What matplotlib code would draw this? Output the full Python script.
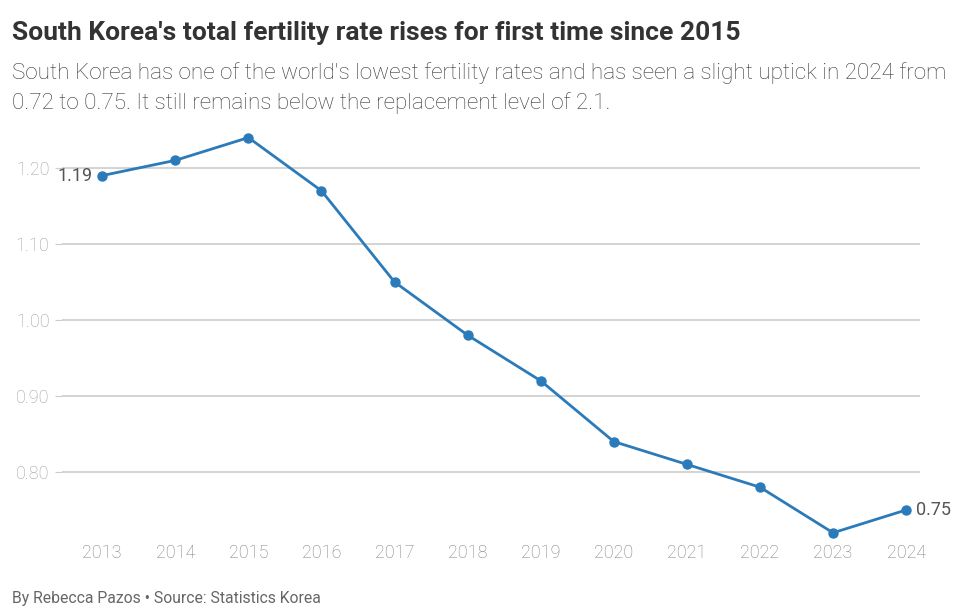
import matplotlib.pyplot as plt

years = [2013, 2014, 2015, 2016, 2017, 2018, 2019, 2020, 2021, 2022, 2023, 2024]
rates = [1.19, 1.21, 1.24, 1.17, 1.05, 0.98, 0.92, 0.84, 0.81, 0.78, 0.72, 0.75]
yticks = [0.80, 0.90, 1.00, 1.10, 1.20]

W, H = 980, 615
fig = plt.figure(figsize=(9.8, 6.15), dpi=100)
plt.rcParams['font.family'] = ['Roboto', 'DejaVu Sans']

# axes placed in pixel coords
left, right, top, bottom = 62, 920, 128, 540
ax = fig.add_axes([left / W, 1 - bottom / H, (right - left) / W, (bottom - top) / H])

blue = '#2b7bba'
ax.plot(years, rates, color=blue, lw=2, marker='o', ms=6.5, zorder=3)

ax.set_xlim(2012.45, 2024.19)
ax.set_ylim(0.7105, 1.2526)
ax.set_yticks(yticks)
ax.set_yticklabels([f"{v:.2f}" for v in yticks])
ax.set_xticks(years)
ax.grid(axis='y', color='#cccccc', lw=1.2)
ax.set_axisbelow(True)
for s in ax.spines.values():
    s.set_visible(False)
ax.tick_params(axis='y', length=5, color='#cccccc', labelcolor='#a0a0a0', labelsize=13, pad=4)
ax.tick_params(axis='x', length=0, labelcolor='#808080', labelsize=13, pad=3)
for lab in ax.get_yticklabels() + ax.get_xticklabels():
    lab.set_fontweight('light')

ax.annotate(f"{rates[0]:.2f}", (years[0], rates[0]), xytext=(-7, 0), textcoords='offset points',
            ha='right', va='center', fontsize=13, color='#555555')
ax.annotate(f"{rates[-1]:.2f}", (years[-1], rates[-1]), xytext=(7, 0), textcoords='offset points',
            ha='left', va='center', fontsize=13, color='#555555')

fig.text(12 / W, 1 - 33 / H, "South Korea's total fertility rate rises for first time since 2015",
         fontsize=19, fontweight='bold', color='#333333', va='center', ha='left')
fig.text(12 / W, 1 - 88 / H,
         "South Korea has one of the world's lowest fertility rates and has seen a slight uptick in 2024 from\n"
         "0.72 to 0.75. It still remains below the replacement level of 2.1.",
         fontsize=16.2, fontweight='light', color='#3a3a3a', va='center', ha='left', linespacing=1.45)
fig.text(12 / W, 1 - 599 / H, "By Rebecca Pazos \u2022 Source: Statistics Korea",
         fontsize=11.3, color='#666666', va='center', ha='left')

fig.savefig("out.png", dpi=100)
